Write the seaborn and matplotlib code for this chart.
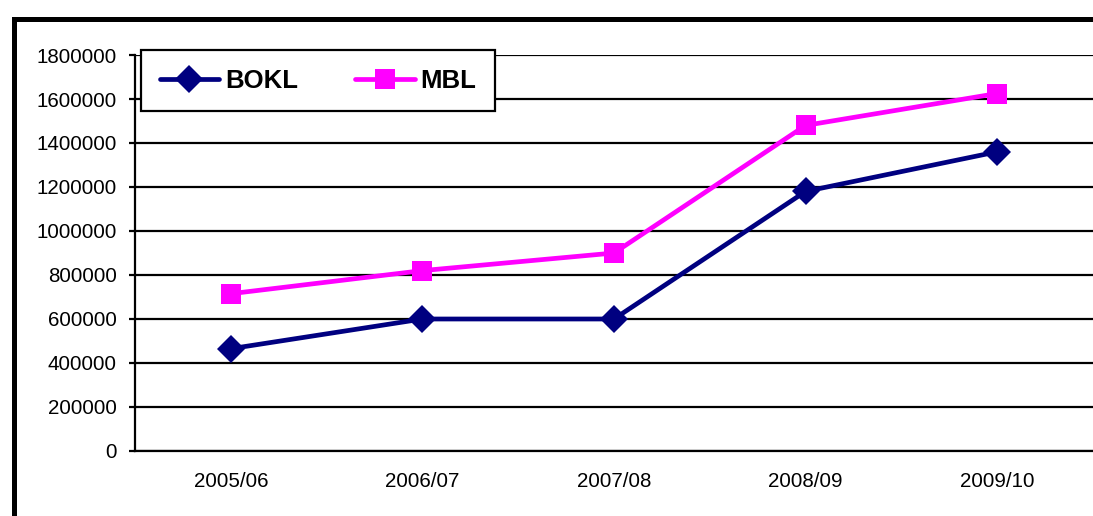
import matplotlib
matplotlib.use("Agg")
import matplotlib.pyplot as plt
from matplotlib.patches import Rectangle
from matplotlib.ticker import FixedLocator, NullFormatter
import seaborn as sns
import pandas as pd

# Yearly figures for the two banks
years = ["2005/06", "2006/07", "2007/08", "2008/09", "2009/10"]
bokl = [465000, 600000, 600000, 1180000, 1360000]
mbl = [715000, 820000, 900000, 1480000, 1625000]
y_ticks = [0, 200000, 400000, 600000, 800000, 1000000, 1200000, 1400000, 1600000, 1800000]

sns.set_theme(style="white")
plt.rcParams["font.family"] = ["Liberation Sans", "DejaVu Sans"]
plt.rcParams["text.color"] = "black"
plt.rcParams["xtick.color"] = "black"
plt.rcParams["ytick.color"] = "black"
plt.rcParams["xtick.labelcolor"] = "black"
plt.rcParams["ytick.labelcolor"] = "black"

df = pd.DataFrame({"pos": range(len(years)), "year": years, "BOKL": bokl, "MBL": mbl})

fig = plt.figure(figsize=(10.93, 5.16), dpi=100)
ax = fig.add_axes([135 / 1093, 1 - 451 / 516, (1093 - 135) / 1093, (451 - 55) / 516])

sns.lineplot(data=df, x="pos", y="BOKL", ax=ax, color="#000080", linewidth=3.4,
             marker="D", markersize=14, markeredgewidth=0, label="BOKL", zorder=4)
sns.lineplot(data=df, x="pos", y="MBL", ax=ax, color="#FF00FF", linewidth=3.4,
             marker="s", markersize=14.5, markeredgewidth=0, label="MBL", zorder=4)

ax.set_xlim(-0.5, len(years) - 0.5)
ax.set_ylim(0, 1800000)
ax.set_xlabel("")
ax.set_ylabel("")

# horizontal gridlines
ax.set_yticks(y_ticks)
ax.set_yticklabels([str(v) for v in y_ticks], fontsize=14.8, color="black")
ax.yaxis.grid(True, color="black", linewidth=1.6)
ax.xaxis.grid(False)
ax.set_axisbelow(True)

# category boundaries get the tick marks, centres carry the labels
ax.xaxis.set_major_locator(FixedLocator([i - 0.5 for i in range(len(years) + 1)]))
ax.xaxis.set_major_formatter(NullFormatter())
ax.xaxis.set_minor_locator(FixedLocator(list(range(len(years)))))
ax.set_xticklabels(years, minor=True, fontsize=14.8, color="black")
ax.tick_params(axis="x", which="major", direction="out", length=4, width=1.6, color="black")
ax.tick_params(axis="x", which="minor", length=0, pad=15)
ax.tick_params(axis="y", direction="out", length=4, width=1.6, color="black", pad=9, left=True)

for side in ["top", "right"]:
    ax.spines[side].set_visible(False)
for side in ["left", "bottom"]:
    ax.spines[side].set_color("black")
    ax.spines[side].set_linewidth(1.6)

leg = ax.legend(loc="upper left", bbox_to_anchor=(6 / 958, 1 + 5 / 396), borderaxespad=0,
                ncol=2, frameon=True, fancybox=False, edgecolor="black",
                prop={"weight": "bold", "size": 18.5}, handlelength=2.33,
                handletextpad=0.23, columnspacing=2.2, borderpad=0.72,
                labelcolor="black")
leg.get_frame().set_linewidth(1.6)
leg.get_frame().set_alpha(1)
leg.set_zorder(5)

# outer chart frame, running off the right and bottom edges
fig.patches.append(Rectangle((13.5 / 1093, -0.1), 1.2, 1 - 18.5 / 516 + 0.1,
                             transform=fig.transFigure, fill=False,
                             edgecolor="black", linewidth=3.6, clip_on=False))

fig.savefig("out.png", dpi=100)
